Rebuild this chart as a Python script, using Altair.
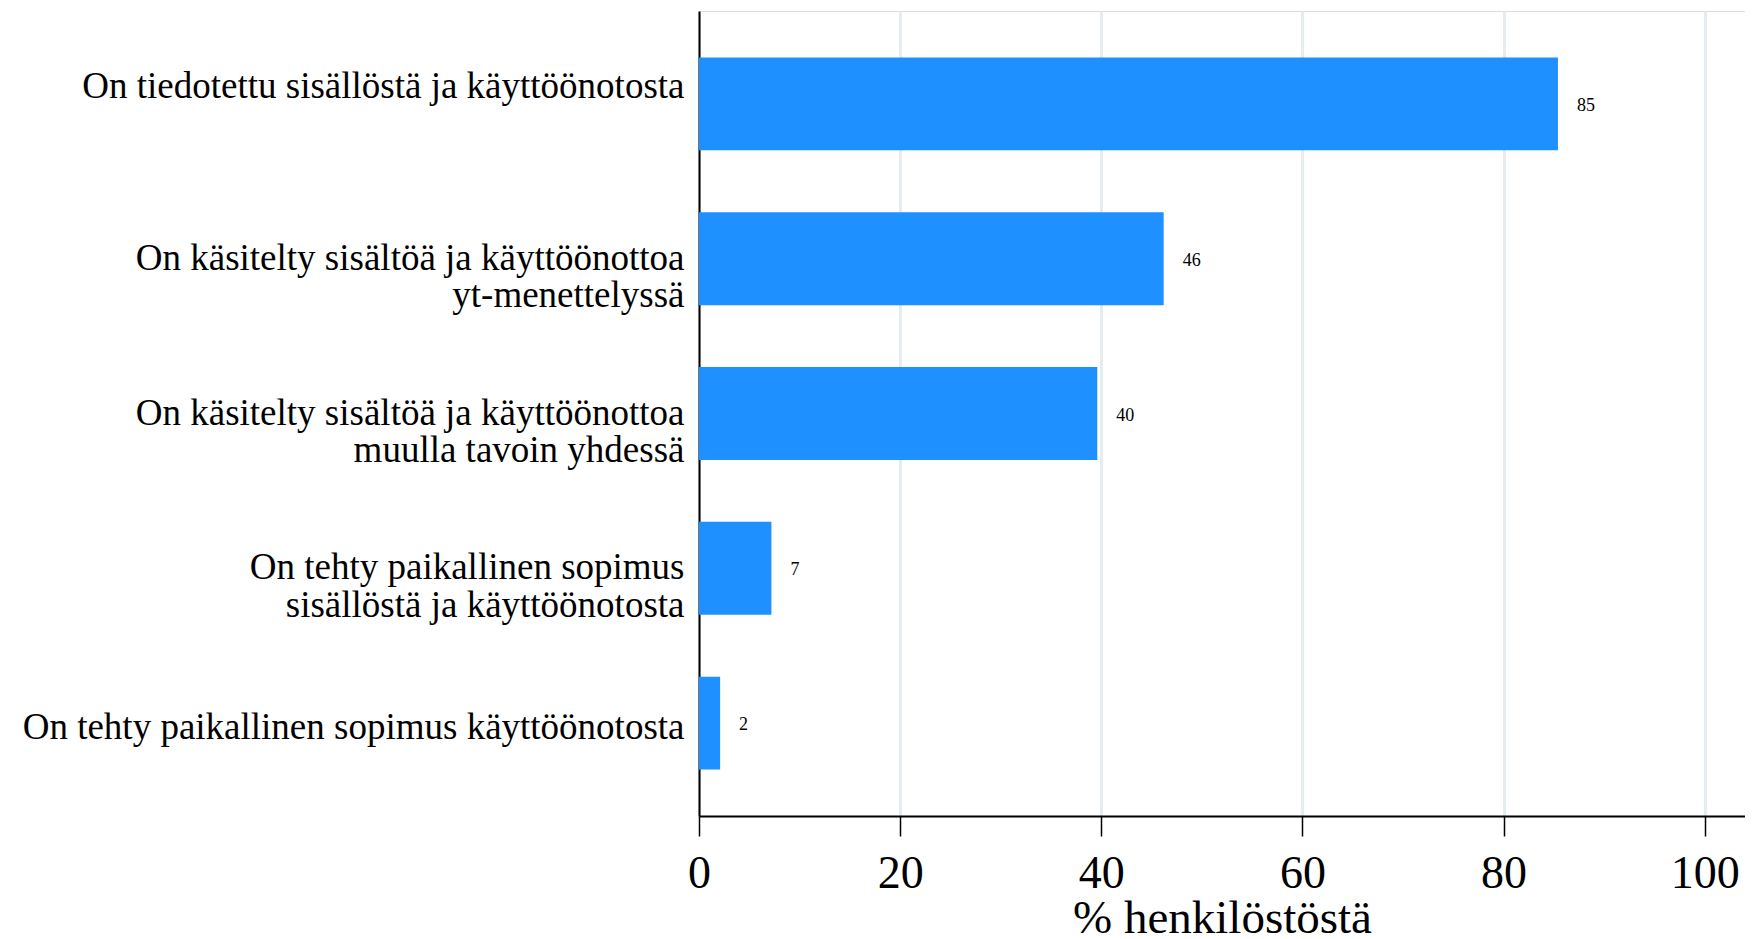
import altair as alt
import pandas as pd

categories = [
    "On tiedotettu sisällöstä ja käyttöönotosta",
    "On käsitelty sisältöä ja käyttöönottoa|yt-menettelyssä",
    "On käsitelty sisältöä ja käyttöönottoa|muulla tavoin yhdessä",
    "On tehty paikallinen sopimus|sisällöstä ja käyttöönotosta",
    "On tehty paikallinen sopimus käyttöönotosta",
]
values = [85.4, 46.2, 39.6, 7.2, 2.1]
value_labels = ["85", "46", "40", "7", "2"]
x_ticks = [0, 20, 40, 60, 80, 100]

df = pd.DataFrame({"cat": categories, "val": values, "lab": value_labels})

FONT = "Liberation Serif"

y_enc = alt.Y(
    "cat:N",
    sort=categories,
    scale=alt.Scale(paddingInner=0.4, paddingOuter=0.3),
    axis=alt.Axis(
        title=None,
        ticks=False,
        grid=False,
        domainColor="black",
        domainWidth=2,
        labelFont=FONT,
        labelFontSize=37,
        labelColor="black",
        labelPadding=15,
        labelLimit=1000,
        labelLineHeight=37.5,
        labelExpr="split(datum.label, '|')",
        labelOffset={
            "condition": [
                {"test": "indexof(datum.value, 'tiedotettu') >= 0", "value": -17},
                {"test": "indexof(datum.value, 'sopimus käyttö') >= 0", "value": 5},
            ],
            "value": 0,
        },
    ),
)

x_enc = alt.X(
    "val:Q",
    scale=alt.Scale(domain=[0, 104], nice=False),
    axis=alt.Axis(
        title="% henkilöstöstä",
        values=x_ticks,
        domainColor="black",
        domainWidth=2,
        tickColor="black",
        tickWidth=1.5,
        tickSize=20,
        labelFont=FONT,
        labelFontSize=46,
        labelColor="black",
        labelPadding=15,
        labelFlush=False,
        grid=True,
        gridColor="#e5edf0",
        gridWidth=3,
        titleFont=FONT,
        titleFontSize=47,
        titleFontWeight="normal",
        titleColor="black",
        titleBaseline="alphabetic",
        titleY=116,
    ),
)

bars = alt.Chart(df).mark_bar(color="#1e90ff").encode(x=x_enc, y=y_enc)

texts = alt.Chart(df).mark_text(
    align="left", baseline="middle", dx=19, dy=2, font=FONT, fontSize=18, color="black"
).encode(x="val:Q", y=alt.Y("cat:N", sort=categories), text="lab:N")

chart = (
    alt.layer(bars, texts)
    .properties(
        width=1046,
        height=805,
        autosize=alt.AutoSizeParams(type="none"),
        padding={"left": 691, "top": 3, "right": 0, "bottom": 120},
    )
    .configure_view(stroke=None)
    .configure(background="white")
)

chart.save("out.html", embed_options={"renderer": "svg", "actions": False})
